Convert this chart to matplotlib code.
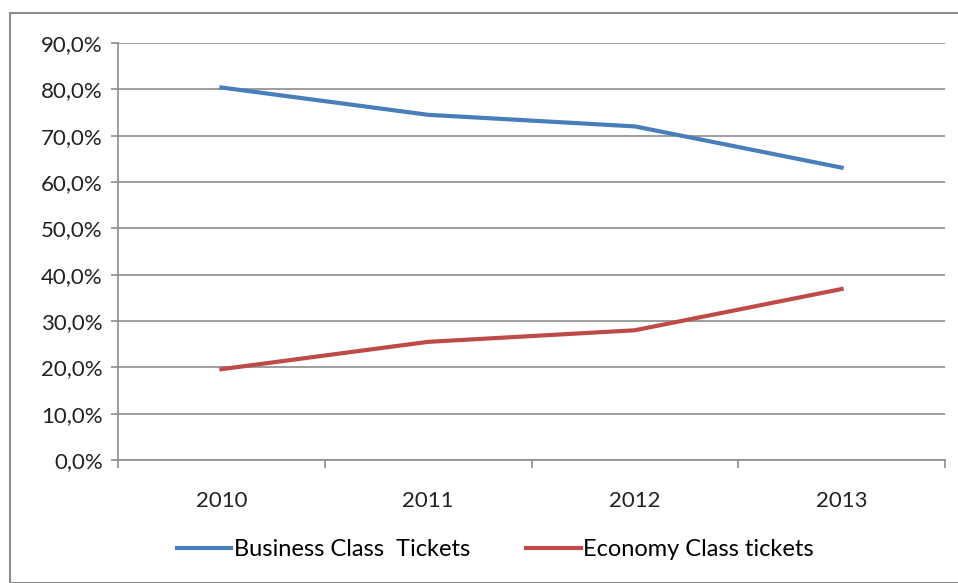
import matplotlib.pyplot as plt
from matplotlib.patches import Rectangle
from matplotlib.ticker import FixedLocator, FuncFormatter

years = ["2010", "2011", "2012", "2013"]
business = [80.4, 74.5, 72.0, 63.1]
economy = [19.6, 25.5, 28.0, 36.9]
yticks = [0, 10, 20, 30, 40, 50, 60, 70, 80, 90]

plt.rcParams['font.family'] = ['Lato', 'DejaVu Sans']

fig = plt.figure(figsize=(9.58, 5.83), dpi=100)
fig.patches.append(Rectangle((10 / 958, 0), 1, 1 - 13 / 583, transform=fig.transFigure,
                             fill=False, edgecolor='#8c8c8c', linewidth=1.5))

ax = fig.add_axes([118 / 958, 1 - 460 / 583, 827 / 958, 417 / 583])
x = list(range(len(years)))
ax.plot(x, business, color='#4A7EBB', linewidth=3, label='Business Class  Tickets')
ax.plot(x, economy, color='#BE4B48', linewidth=3, label='Economy Class tickets')

ax.set_xlim(-0.5, 3.5)
ax.set_ylim(0, 90)
ax.set_yticks(yticks)
ax.yaxis.set_major_formatter(FuncFormatter(lambda v, p: f"{v:.1f}%".replace('.', ',')))
ax.set_xticks(x)
ax.set_xticklabels(years)
ax.xaxis.set_minor_locator(FixedLocator([-0.5, 0.5, 1.5, 2.5, 3.5]))
ax.tick_params(axis='x', which='major', length=0, pad=22, labelsize=16, colors='#222222')
ax.tick_params(axis='x', which='minor', length=6, color='#8c8c8c', width=1.2)
ax.tick_params(axis='y', length=5, color='#8c8c8c', width=1.2, labelsize=16, pad=6, labelcolor='#222222')
ax.grid(axis='y', color='#8c8c8c', linewidth=1.2)
ax.set_axisbelow(True)
for s in ['top', 'right']:
    ax.spines[s].set_visible(False)
for s in ['left', 'bottom']:
    ax.spines[s].set_color('#8c8c8c')
    ax.spines[s].set_linewidth(1.2)

fig.legend(loc='center', bbox_to_anchor=(0.517, 1 - 550 / 583), ncol=2, frameon=False,
           fontsize=17, handlelength=2.3, columnspacing=2.4, handletextpad=0.1)

fig.savefig('out.png', dpi=100)
